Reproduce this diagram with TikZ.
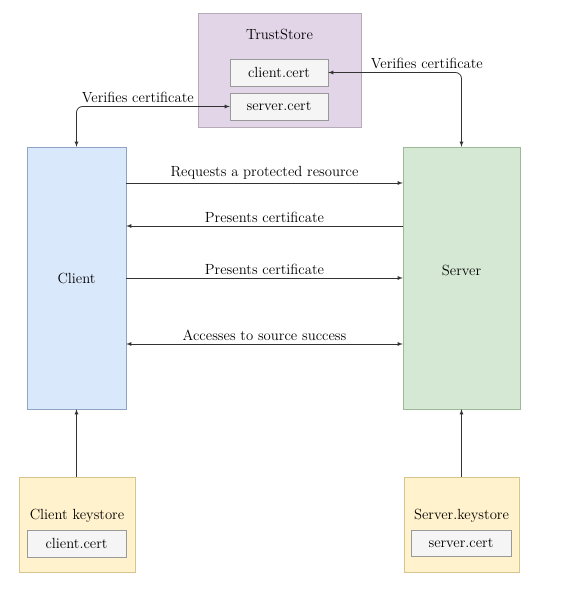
\documentclass[tikz,border=0pt]{standalone}
\usetikzlibrary{positioning}
\definecolor{trustfill}{HTML}{E1D5E7}
\definecolor{trustdraw}{HTML}{B8ABB8}
\definecolor{clientfill}{HTML}{DAE8FC}
\definecolor{clientdraw}{HTML}{8FA3C4}
\definecolor{serverfill}{HTML}{D5E8D4}
\definecolor{serverdraw}{HTML}{9CBA95}
\definecolor{keyfill}{HTML}{FFF2CC}
\definecolor{keydraw}{HTML}{D8C58E}
\definecolor{certfill}{HTML}{F5F5F5}
\definecolor{certdraw}{HTML}{999999}
\tikzset{>=latex}

\begin{document}
\begin{tikzpicture}[x=1pt, y=-1pt, font=\fontsize{14.7}{17}\selectfont]
	\tikzstyle{store} = [draw=trustdraw, fill=trustfill, minimum width=163pt, minimum height=114pt]
	\tikzstyle{party} = [draw, minimum height=262pt]
	\tikzstyle{keystore} = [draw=keydraw, fill=keyfill, minimum height=95pt]
	\tikzstyle{cert} = [draw=certdraw, fill=certfill, minimum height=27pt]
	\tikzstyle{msg} = [thick, draw=black!80]
	\useasboundingbox (0,0) rectangle (566,591);

%----------TrustStore------------------------------
	\node[store] (trust) at (279.5,70) {};
	\node (trusttitle) at (279.5,34) {TrustStore};
	\node[cert, minimum width=98pt] (tcc) at (279,72.5) {client.cert};
	\node[cert, minimum width=98pt] (tsc) at (279,106.5) {server.cert};

%----------Client and Server------------------------------
	\node[party, draw=clientdraw, fill=clientfill, minimum width=99pt] (client) at (76.5,278) {Client};
	\node[party, draw=serverdraw, fill=serverfill, minimum width=117pt] (server) at (461.5,278) {};
	\node (servertitle) at (461.5,270) {Server};

	\draw[->, msg] ([yshift=95pt]client.east) -- node[above] {Requests a protected resource} ([yshift=95pt]server.west);
	\draw[->, msg] ([yshift=52pt]server.west) -- node[above] {Presents certificate} ([yshift=52pt]client.east);
	\draw[->, msg] (client.east) -- node[above] {Presents certificate} (server.west);
	\draw[<->, msg] ([yshift=-66pt]client.east) -- node[above] {Accesses to source success} ([yshift=-66pt]server.west);

	\draw[<->, msg, rounded corners=6pt] (tsc.west) -| node[above, pos=0.3] {Verifies certificate} (client.north);
	\draw[<->, msg, rounded corners=6pt] (tcc.east) -| node[above, pos=0.37] {Verifies certificate} (server.north);

%----------Keystores------------------------------
	\node[keystore, minimum width=116pt] (ckeys) at (77,524.5) {};
	\node (ckeystitle) at (77,516) {Client keystore};
	\node[cert, minimum width=99pt] (ccc) at (76.5,543.5) {client.cert};

	\node[keystore, minimum width=115pt] (skeys) at (461.5,524.5) {};
	\node (skeystitle) at (461.5,516) {Server.keystore};
	\node[cert, minimum width=100pt, minimum height=26pt] (scc) at (461,543) {server.cert};

	\draw[->, msg] (ckeys.north -| client.south) -- (client.south);
	\draw[->, msg] (skeys.north -| server.south) -- (server.south);
\end{tikzpicture}
\end{document}
